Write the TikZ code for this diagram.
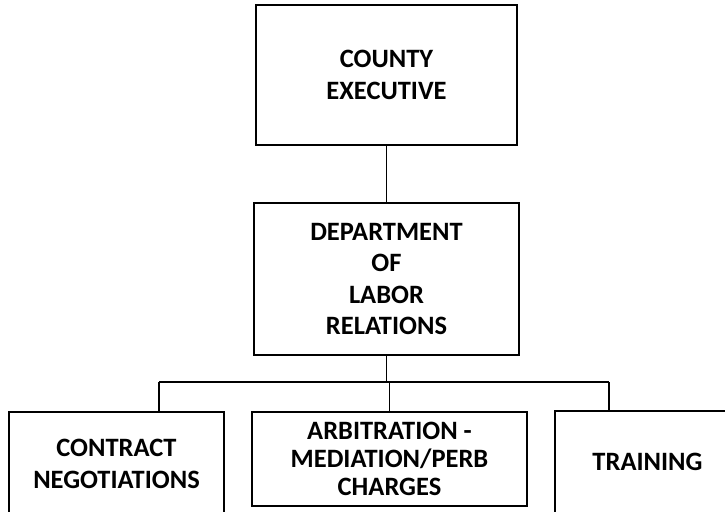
\documentclass[tikz,border=0pt]{standalone}
\usepackage{fontspec}
\setmainfont{Carlito}
\begin{document}
\begin{tikzpicture}[x=1pt,y=-1pt,
  unit/.style={draw=black, line width=1.5pt, align=center, inner sep=0pt,
    font=\bfseries\fontsize{26.5}{31.5}\selectfont},
  link/.style={draw=black, line width=1.1pt}]
\useasboundingbox (0,0) rectangle (725,511);

% boxes
\node[unit, minimum width=261pt, minimum height=140pt] (exec) at (386.5,75) {COUNTY\\EXECUTIVE};
\node[unit, minimum width=265pt, minimum height=152pt] (dept) at (386.5,279) {DEPARTMENT\\OF\\LABOR\\RELATIONS};
\node[unit, minimum width=215pt, minimum height=104pt] (contract) at (116.5,464) {CONTRACT\\NEGOTIATIONS};
\node[unit, minimum width=275pt, minimum height=94pt, font=\bfseries\fontsize{26.5}{28}\selectfont] (arb) at (389.5,459) {ARBITRATION -\\MEDIATION/PERB\\CHARGES};
\node[unit, minimum width=185pt, minimum height=102pt] (training) at (647.5,462) {TRAINING};

% connectors
\coordinate (busL) at (159,382);
\coordinate (busR) at (609,382);
\draw[link] (exec.south) -- (dept.north);
\draw[link] (dept.south) -- (dept.south |- busL);
\draw[link] (busL) -- (busR);
\draw[link] (busL) -- (busL |- contract.north);
\draw[link] (arb.north |- busL) -- (arb.north);
\draw[link] (busR) -- (busR |- training.north);
\end{tikzpicture}
\end{document}
